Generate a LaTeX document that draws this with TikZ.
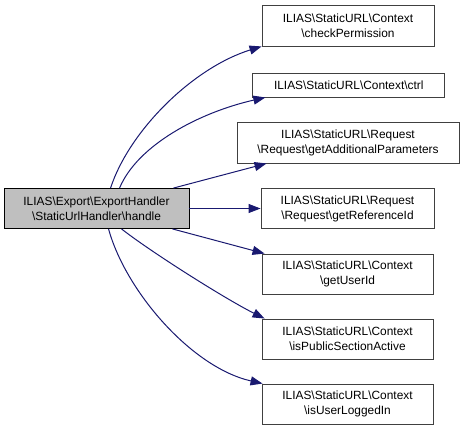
\documentclass[tikz,border=0pt]{standalone}
\usepackage{fontspec}
\setmainfont{Liberation Sans}
\usetikzlibrary{arrows.meta}
\definecolor{edgeblue}{RGB}{25,25,112}
\newcommand{\bs}{\textbackslash}

\begin{document}
\begin{tikzpicture}[x=1pt, y=-1pt,
  fn/.style={draw=black!75, fill=white, line width=0.9pt, inner sep=0pt, align=center, font=\fontsize{11.9}{15}\selectfont},
  cur/.style={fn, draw=black, fill=black!25},
  call/.style={draw=edgeblue, line width=1pt, -{Triangle[length=12pt, width=9pt]}}]
\useasboundingbox (0,0) rectangle (464,431);
%Nodes
\node[cur, minimum width=185pt, minimum height=40pt] (handle) at (96.5,208.5) {ILIAS\bs Export\bs ExportHandler\\\bs StaticUrlHandler\bs handle};
\node[fn, minimum width=172pt, minimum height=41pt] (chk) at (348,25.5) {ILIAS\bs StaticURL\bs Context\\\bs checkPermission};
\node[fn, minimum width=192pt, minimum height=24pt] (ctrl) at (348.8,85) {ILIAS\bs StaticURL\bs Context\bs ctrl};
\node[fn, minimum width=222pt, minimum height=41pt] (addp) at (348,142.5) {ILIAS\bs StaticURL\bs Request\\\bs Request\bs getAdditionalParameters};
\node[fn, minimum width=173pt, minimum height=40pt] (refid) at (347.5,208.5) {ILIAS\bs StaticURL\bs Request\\\bs Request\bs getReferenceId};
\node[fn, minimum width=171pt, minimum height=40pt] (uid) at (347.5,274) {ILIAS\bs StaticURL\bs Context\\\bs getUserId};
\node[fn, minimum width=171pt, minimum height=40pt] (pub) at (347.5,339) {ILIAS\bs StaticURL\bs Context\\\bs isPublicSectionActive};
\node[fn, minimum width=171pt, minimum height=40pt] (logged) at (347.5,404) {ILIAS\bs StaticURL\bs Context\\\bs isUserLoggedIn};
%Calls
\draw[call] ([xshift=107pt]handle.north west) .. controls +(19,-58) and +(-68,21) .. (chk.south west);
\draw[call] ([xshift=116pt]handle.north west) .. controls +(18,-43) and +(-66,15) .. ([xshift=13pt]ctrl.south west);
\draw[call] ([xshift=170pt]handle.north west) -- ([xshift=30pt]addp.south west);
\draw[call] (handle.east) -- (refid.west);
\draw[call] ([xshift=169pt]handle.south west) -- ([xshift=3pt]uid.north west);
\draw[call] ([xshift=118pt]handle.south west) .. controls +(28,22) and +(-40,-20) .. ([xshift=3pt]pub.north west);
\draw[call] ([xshift=105pt]handle.south west) .. controls +(17,62) and +(-71,-16) .. ([xshift=1pt]logged.north west);
\end{tikzpicture}
\end{document}
